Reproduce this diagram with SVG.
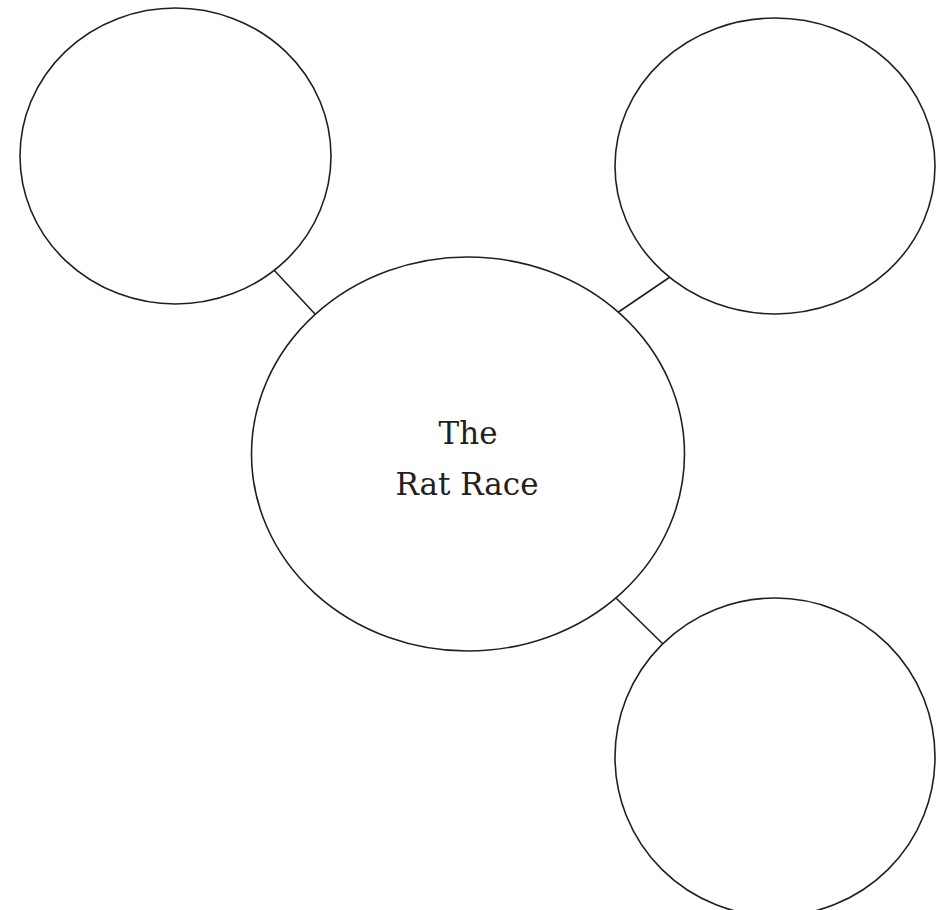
<svg xmlns="http://www.w3.org/2000/svg" width="945" height="910" viewBox="0 0 945 910">
<style>
.n{fill:#fff;stroke:#231f20;stroke-width:1.6}
.c{stroke:#231f20;stroke-width:1.6;fill:none}
.t{font-family:"DejaVu Serif","Liberation Serif",serif;font-size:31px;fill:#231f20;text-anchor:middle}
</style>
<rect width="945" height="910" fill="#fff"/>
<g id="connectors">
<line class="c" x1="273" y1="269" x2="315" y2="314"/>
<line class="c" x1="670" y1="277" x2="617" y2="313"/>
<line class="c" x1="616" y1="598" x2="663" y2="644"/>
</g>
<g id="node-top-left"><ellipse class="n" cx="175.5" cy="156" rx="155.5" ry="148"/></g>
<g id="node-top-right"><ellipse class="n" cx="775" cy="166" rx="160" ry="148"/></g>
<g id="node-center"><ellipse class="n" cx="468" cy="454" rx="216.5" ry="197"/>
<text class="t" x="468" y="444">The</text>
<text class="t" x="467" y="495">Rat Race</text>
</g>
<g id="node-bottom-right"><ellipse class="n" cx="775" cy="757" rx="160" ry="159"/></g>
</svg>
